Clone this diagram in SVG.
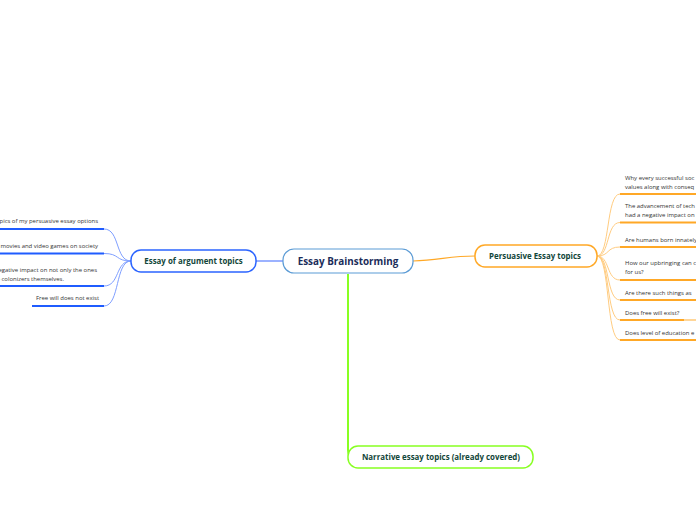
<svg xmlns="http://www.w3.org/2000/svg" width="696" height="520" viewBox="0 0 696 520">
<style>
.node{font-family:"Open Sans","Noto Sans",sans-serif;font-weight:bold;font-size:7.9px;fill:#12463a;text-anchor:middle}
.sub{font-family:"Open Sans","Noto Sans",sans-serif;font-size:5.95px;fill:#333}
.l{text-anchor:end}
.bl{stroke:#1f5cff;stroke-width:2;fill:none}
.or{stroke:#ffa826;stroke-width:2;fill:none}
.bc{stroke:#7f9fff;stroke-width:1;fill:none}
.oc{stroke:#ffcc80;stroke-width:1;fill:none}
</style>
<rect width="696" height="520" fill="#fff"/>
<g id="connectors">
<line x1="256" y1="261" x2="283" y2="261" stroke="#5b7fff" stroke-width="1.2"/>
<path d="M413,261 C440,260 450,256 475,256" stroke="#ffa826" stroke-width="1.2" fill="none"/>
<path d="M348,274 L348,450 Q348,456 352,456" stroke="#88ff22" stroke-width="2" fill="none"/>
<path class="bc" d="M131,261 C115,261 120,229 104,229"/>
<path class="bc" d="M131,261 C115,261 120,253.5 104,253.5"/>
<path class="bc" d="M131,261 C115,261 120,286 104,286"/>
<path class="bc" d="M131,261 C115,261 120,306 104,306"/>
<path class="oc" d="M597,256 C610,256 606,194 620,194"/>
<path class="oc" d="M597,256 C610,256 606,222.5 620,222.5"/>
<path class="oc" d="M597,256 C610,256 606,247 620,247"/>
<path class="oc" d="M597,256 C610,256 606,280 620,280"/>
<path class="oc" d="M597,256 C610,256 606,300 620,300"/>
<path class="oc" d="M597,256 C610,256 606,320 620,320"/>
<path class="oc" d="M597,256 C610,256 606,340 620,340"/>
</g>
<g id="center">
<rect x="283" y="249" width="130" height="24" rx="11" fill="#fff" stroke="#5b9bd5" stroke-width="1.2"/>
<text class="node" x="348" y="264.5" style="font-size:9.9px;fill:#1b2d5a">Essay Brainstorming</text>
</g>
<g id="argument">
<rect x="131" y="250" width="125" height="22" rx="10" fill="#fff" stroke="#2b64ff" stroke-width="1.5"/>
<text class="node" x="193.5" y="264">Essay of argument topics</text>
</g>
<g id="persuasive">
<rect x="475" y="245" width="122" height="22" rx="10" fill="#fff" stroke="#ffa826" stroke-width="1.5"/>
<text class="node" x="535" y="259">Persuasive Essay topics</text>
</g>
<g id="narrative">
<rect x="348" y="446" width="185" height="22" rx="10" fill="#fff" stroke="#88ff22" stroke-width="1.5"/>
<text class="node" x="441" y="460">Narrative essay topics (already covered)</text>
</g>
<g id="arg1"><text class="sub l" x="98" y="223">pics of my persuasive essay options</text><line class="bl" x1="0" y1="229" x2="104" y2="229"/></g>
<g id="arg2"><text class="sub l" x="98" y="247.5">movies and video games on society</text><line class="bl" x1="0" y1="253.5" x2="104" y2="253.5"/></g>
<g id="arg3"><text class="sub l" x="97" y="272">egative impact on not only the ones</text><text class="sub l" x="64" y="280.5">e colonizers themselves.</text><line class="bl" x1="0" y1="286" x2="104" y2="286"/></g>
<g id="arg4"><text class="sub l" x="99" y="300">Free will does not exist</text><line class="bl" x1="32" y1="306" x2="104" y2="306"/></g>
<g id="p1"><text class="sub" x="625" y="179.5">Why every successful soc</text><text class="sub" x="625" y="188.5">values along with conseq</text><line class="or" x1="620" y1="194" x2="696" y2="194"/></g>
<g id="p2"><text class="sub" x="625" y="208">The advancement of tech</text><text class="sub" x="625" y="217">had a negative impact on</text><line class="or" x1="620" y1="222.5" x2="696" y2="222.5"/></g>
<g id="p3"><text class="sub" x="625" y="241.5">Are humans born innately</text><line class="or" x1="620" y1="247" x2="696" y2="247"/></g>
<g id="p4"><text class="sub" x="625" y="265">How our upbringing can c</text><text class="sub" x="625" y="274">for us?</text><line class="or" x1="620" y1="280" x2="696" y2="280"/></g>
<g id="p5"><text class="sub" x="625" y="294.5">Are there such things as</text><line class="or" x1="620" y1="300" x2="696" y2="300"/></g>
<g id="p6"><text class="sub" x="625" y="314.5">Does free will exist?</text><line class="or" x1="620" y1="320" x2="684" y2="320"/><line x1="684" y1="320" x2="696" y2="320" stroke="#ffd699" stroke-width="2"/></g>
<g id="p7"><text class="sub" x="625" y="334.5">Does level of education e</text><line class="or" x1="620" y1="340" x2="696" y2="340"/></g>
</svg>
